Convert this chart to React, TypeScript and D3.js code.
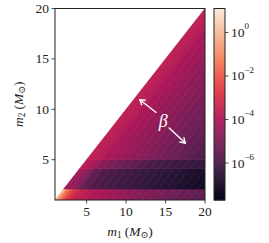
import * as d3 from "d3";
import React from "react";

const W = 269;
const H = 243;

// m2 band edges and m1 - m2 bin edges (solar masses)
const m2Edges = [1, 2.1, 4.1, 5.0, 20];
const deltaEdges = [0, 0.4, 0.8, 1.2, 1.6, 2, 3, 4, 5, 6, 7, 8, 9, 10, 11, 12, 13, 14, 15, 16, 17, 18, 19];

// log10 of the density, one row per m2 band (bottom to top), one entry per m1 - m2 bin
const band1 = [-0.3, -1.4, -2.0, -2.6, -3.0, -3.4, -3.7, -3.9, -4.05, -4.2, -4.35, -4.5, -4.65, -4.8, -4.9, -5.0, -5.1, -5.2, -5.3, -5.4, -5.5, -5.6];
const band2 = [-4.2, -4.3, -4.45, -4.7, -5.0, -5.5, -5.85, -6.0, -6.1, -6.2, -6.3, -6.4, -6.5, -6.6, -6.7, -6.8, -6.9, -7.0, -7.1, -7.25, -7.35, null];
const band3 = [-3.7, -3.8, -3.9, -4.1, -4.3, -4.6, -4.9, -5.15, -5.35, -5.55, -5.75, -5.95, -6.05, -6.15, -6.25, -6.35, -6.4, -6.45, -6.5, null, null, null];
const band4 = [-3.55, -3.6, -3.65, -3.7, -3.8, -3.95, -4.15, -4.35, -4.5, -4.65, -4.8, -4.95, -5.1, -5.25, -5.4, -5.55, -5.7, -5.85, null, null, null, null];
const bands = [band1, band2, band3, band4];

const xTicks = [5, 10, 15, 20];
const yTicks = [5, 10, 15, 20];
const cbarTicks = [0, -2, -4, -6];
const cbarDomain = [-7.7, 1.1];

// rocket-like colormap stops
const rocketStops = ["#03051a", "#35193e", "#701f57", "#ad1759", "#e13342", "#f37651", "#f6b48f", "#faebdd"];

// beta annotation (data coords)
const betaPos = [14.7, 8.85];
const arrowUp = { from: [13.85, 9.65], to: [11.75, 10.95] };
const arrowDown = { from: [15.4, 8.2], to: [17.5, 6.65] };

const FONT = "Liberation Serif, DejaVu Serif, serif";

const x = d3.scaleLinear().domain([1, 20]).range([55, 205]);
const y = d3.scaleLinear().domain([1, 20]).range([200, 8.5]);
const cmap = d3.piecewise(d3.interpolateRgb, rocketStops);
const cScale = d3.scaleLinear().domain(cbarDomain).range([0, 1]).clamp(true);
const cbY = d3.scaleLinear().domain(cbarDomain).range([200, 8.5]);

const cbX0 = 214;
const cbX1 = 225;

const Sub = ({ children }: { children: React.ReactNode }) => (
  <tspan baselineShift="-25%" fontSize="70%" fontStyle="normal">{children}</tspan>
);

export default function App() {
  const cells: { pts: string; color: string }[] = [];
  bands.forEach((row, bi) => {
    const a = m2Edges[bi];
    const b = m2Edges[bi + 1];
    row.forEach((v, di) => {
      if (v === null) return;
      const c = deltaEdges[di];
      const d = deltaEdges[di + 1];
      const corners = [
        [a + c, a],
        [a + d, a],
        [b + d, b],
        [b + c, b],
      ];
      cells.push({
        pts: corners.map(([m1, m2]) => `${x(m1)},${y(m2)}`).join(" "),
        color: cmap(cScale(v)),
      });
    });
  });

  const cbSteps = d3.range(0, 192);
  const cbStep = (cbarDomain[1] - cbarDomain[0]) / cbSteps.length;

  return (
    <svg width={W} height={H} style={{ position: "absolute", left: 0, top: 0, background: "#fff", fontFamily: FONT }}>
      <defs>
        <clipPath id="plotClip">
          <rect x={x(1)} y={y(20)} width={x(20) - x(1)} height={y(1) - y(20)} />
        </clipPath>
        <marker id="head" viewBox="-6 -4 7 8" refX="0" refY="0" markerWidth="7" markerHeight="8" markerUnits="userSpaceOnUse" orient="auto">
          <path d="M-5,-3.2 L0,0 L-5,3.2" fill="none" stroke="#fff" strokeWidth="1.4" />
        </marker>
      </defs>

      <g clipPath="url(#plotClip)">
        {cells.map((c, i) => (
          <polygon key={i} points={c.pts} fill={c.color} stroke={c.color} strokeWidth={0.6} />
        ))}
      </g>

      {/* beta annotation */}
      <line x1={x(arrowUp.from[0])} y1={y(arrowUp.from[1])} x2={x(arrowUp.to[0])} y2={y(arrowUp.to[1])}
        stroke="#fff" strokeWidth={1.4} markerEnd="url(#head)" />
      <line x1={x(arrowDown.from[0])} y1={y(arrowDown.from[1])} x2={x(arrowDown.to[0])} y2={y(arrowDown.to[1])}
        stroke="#fff" strokeWidth={1.4} markerEnd="url(#head)" />
      <text x={x(betaPos[0])} y={y(betaPos[1])} fill="#fff" fontSize={18} fontStyle="italic" textAnchor="middle" dominantBaseline="central">β</text>

      {/* frame */}
      <rect x={x(1)} y={y(20)} width={x(20) - x(1)} height={y(1) - y(20)} fill="none" stroke="#222" strokeWidth={1} />

      {/* x axis */}
      {xTicks.map((t) => (
        <g key={t} transform={`translate(${x(t)},${y(1)})`}>
          <line y1={0} y2={3.5} stroke="#222" strokeWidth={0.8} />
          <text y={16} textAnchor="middle" fontSize={13.5} fill="#222">{t}</text>
        </g>
      ))}
      <text x={(x(1) + x(20)) / 2} y={236} textAnchor="middle" fontSize={13.5} fill="#222">
        <tspan fontStyle="italic">m</tspan><Sub>1</Sub><tspan dx={3}>(</tspan><tspan fontStyle="italic">M</tspan><Sub>⊙</Sub><tspan>)</tspan>
      </text>

      {/* y axis */}
      {yTicks.map((t) => (
        <g key={t} transform={`translate(${x(1)},${y(t)})`}>
          <line x1={0} x2={-3.5} stroke="#222" strokeWidth={0.8} />
          <text x={-6} textAnchor="end" dominantBaseline="central" fontSize={13.5} fill="#222">{t}</text>
        </g>
      ))}
      <text transform={`translate(23,${(y(1) + y(20)) / 2}) rotate(-90)`} textAnchor="middle" fontSize={13.5} fill="#222">
        <tspan fontStyle="italic">m</tspan><Sub>2</Sub><tspan dx={3}>(</tspan><tspan fontStyle="italic">M</tspan><Sub>⊙</Sub><tspan>)</tspan>
      </text>

      {/* colorbar */}
      <g>
        {cbSteps.map((i) => {
          const v0 = cbarDomain[0] + i * cbStep;
          return (
            <rect key={i} x={cbX0} width={cbX1 - cbX0} y={cbY(v0 + cbStep)} height={cbY(v0) - cbY(v0 + cbStep) + 0.5}
              fill={cmap(cScale(v0 + cbStep / 2))} />
          );
        })}
        <rect x={cbX0} y={cbY(cbarDomain[1])} width={cbX1 - cbX0} height={cbY(cbarDomain[0]) - cbY(cbarDomain[1])}
          fill="none" stroke="#222" strokeWidth={1} />
        {cbarTicks.map((t) => (
          <g key={t} transform={`translate(${cbX1},${cbY(t)})`}>
            <line x1={0} x2={3.5} stroke="#222" strokeWidth={0.8} />
            <text x={6} dominantBaseline="central" fontSize={13.5} fill="#222">
              10<tspan dy={-6} fontSize={9}>{t === 0 ? "0" : `−${-t}`}</tspan>
            </text>
          </g>
        ))}
      </g>
    </svg>
  );
}
